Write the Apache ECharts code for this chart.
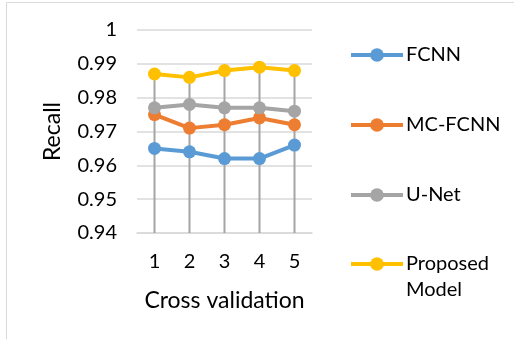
<!DOCTYPE html>
<html>
<head>
<meta charset="utf-8">
<script src="https://cdn.jsdelivr.net/npm/echarts@6/dist/echarts.min.js"></script>
<style>
  html, body { margin: 0; padding: 0; background: #fff; }
  #chart { width: 514px; height: 339px; }
</style>
</head>
<body>
<div id="chart"></div>
<script>
// 交叉验证折数
var folds = ['1', '2', '3', '4', '5'];
var seriesNames = ['FCNN', 'MC-FCNN', 'U-Net', 'Proposed Model'];
var fcnn = [0.965, 0.964, 0.962, 0.962, 0.966];
var mcFcnn = [0.975, 0.971, 0.972, 0.974, 0.972];
var uNet = [0.977, 0.978, 0.977, 0.977, 0.976];
var proposed = [0.987, 0.986, 0.988, 0.989, 0.988];
var yMin = 0.94, yMax = 1, yStep = 0.01;

(function () {
    var myChart = echarts.init(document.getElementById('chart'));
    var colors = ['#5B9BD5', '#ED7D31', '#A5A5A5', '#FFC000'];
    var allData = [fcnn, mcFcnn, uNet, proposed];
    var font = 'Lato, "Open Sans", sans-serif';

    // drop lines: from highest point of each fold down to axis
    var dropData = folds.map(function (f, i) {
        return Math.max(fcnn[i], mcFcnn[i], uNet[i], proposed[i]);
    });

    var lineSeries = seriesNames.map(function (name, k) {
        return {
            name: name,
            type: 'line',
            data: allData[k],
            symbol: 'circle',
            symbolSize: 13,
            z: 3,
            lineStyle: { width: 4, color: colors[k] },
            itemStyle: { color: colors[k] }
        };
    });

    var legendBase = {
        orient: 'vertical',
        left: 344,
        itemWidth: 52,
        itemHeight: 17,
        itemGap: 48,
        lineStyle: { width: 4 },
        textStyle: {
            color: '#000',
            fontSize: 20,
            fontFamily: font,
            lineHeight: 22,
            padding: [0, 0, 0, -2]
        }
    };

    var option = {
        animation: false,
        color: colors,
        graphic: [{
            type: 'rect',
            shape: { x: 6.5, y: 2.5, width: 520, height: 350 },
            style: { fill: 'none', stroke: '#d9d9d9', lineWidth: 1 },
            silent: true
        }],
        legend: [
            echarts.util.merge({ top: 39, data: seriesNames.slice(0, 3) }, legendBase),
            echarts.util.merge({
                top: 220,
                data: seriesNames.slice(3),
                // 第一行留空, 使图标对齐 "Proposed"
                formatter: function (name) { return '\n' + name.replace(' ', '\n'); },
                textStyle: { lineHeight: 26 }
            }, legendBase)
        ],
        grid: {
            left: 137,
            right: 202,
            top: 30,
            bottom: 106
        },
        xAxis: {
            type: 'category',
            data: folds,
            name: 'Cross validation',
            nameLocation: 'middle',
            nameGap: 56,
            nameTextStyle: { color: '#000', fontSize: 23, fontFamily: font },
            axisLine: { lineStyle: { color: '#d9d9d9', width: 1.5 } },
            axisTick: { show: false },
            axisLabel: { color: '#000', fontSize: 20, fontFamily: font, margin: 19 }
        },
        yAxis: {
            type: 'value',
            min: yMin,
            max: yMax,
            interval: yStep,
            name: 'Recall',
            nameLocation: 'middle',
            nameGap: 73,
            nameTextStyle: { color: '#000', fontSize: 23, fontFamily: font },
            axisLine: { show: false },
            axisTick: { show: false },
            axisLabel: { color: '#000', fontSize: 20, fontFamily: font, margin: 20 },
            splitLine: { lineStyle: { color: '#d9d9d9', width: 1.5 } }
        },
        series: [{
            name: 'drop',
            type: 'bar',
            data: dropData,
            barWidth: 2,
            clip: true,
            z: 1,
            itemStyle: { color: '#a5a5a5' }
        }].concat(lineSeries)
    };
    myChart.setOption(option);
})();
</script>
</body>
</html>
